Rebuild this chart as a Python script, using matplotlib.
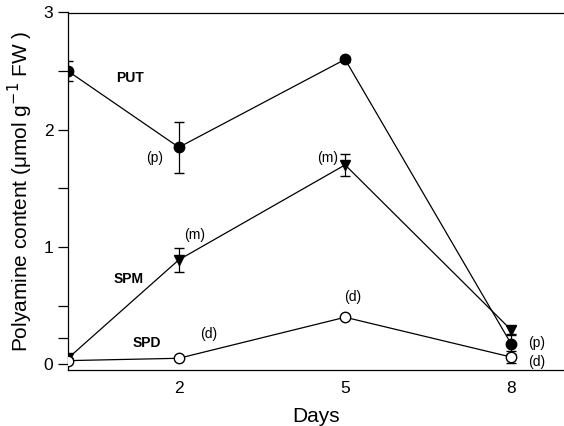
import numpy as np
import matplotlib
matplotlib.use('Agg')
import matplotlib.pyplot as plt

plt.rcParams['font.family'] = ['Liberation Sans', 'DejaVu Sans']

# Datos
dias = [0, 2, 5, 8]
put = [2.50, 1.85, 2.60, 0.17]
put_err = [0.085, 0.22, 0.02, 0.08]
spm = [0.05, 0.89, 1.70, 0.29]
spm_err = [0.0, 0.10, 0.095, 0.035]
spd = [0.03, 0.05, 0.40, 0.06]
spd_err = [0.0, 0.0, 0.0, 0.05]

fig = plt.figure(figsize=(5.64, 4.26), dpi=100)
ax = fig.add_axes([68 / 564, 1 - 370 / 426, 1 - 68 / 564, (370 - 12.5) / 426])

# Lineas y marcadores
ax.errorbar(dias, put, yerr=put_err, fmt='o', color='black', lw=0.9,
            ms=7.5, capsize=3.5, elinewidth=0.9, ls='-', zorder=3)
ax.errorbar(dias, spm, yerr=spm_err, fmt='v', color='black', lw=0.9,
            ms=7.5, capsize=3.5, elinewidth=0.9, ls='-', zorder=3)
ax.errorbar(dias, spd, yerr=spd_err, fmt='o', color='black', mfc='white',
            mec='black', lw=0.9, ms=7.5, capsize=3.5, elinewidth=0.9, ls='-', zorder=3)

ax.set_xlim(0, 8.95)
ax.set_ylim(-0.05, 3)
ax.set_xticks([2, 5, 8])
ax.set_yticks([0, 1, 2, 3])
ax.set_yticks([0.22, 0.5, 1.5, 2.5], minor=True)
ax.tick_params(axis='x', length=0, labelsize=12.5, pad=8)
ax.tick_params(axis='y', which='both', direction='out', length=7, width=0.9, labelsize=12.5)
ax.spines['right'].set_visible(False)
for s in ['left', 'top', 'bottom']:
    ax.spines[s].set_linewidth(0.9)

ax.set_xlabel('Days', fontsize=15, labelpad=8)
ax.set_ylabel('Polyamine content (\u03bcmol g$^{-1}$ FW )', fontsize=15, labelpad=6)

# Etiquetas dentro del grafico
etiquetas = [
    (1.12, 2.44, 'PUT', 'bold'),
    (1.10, 0.73, 'SPM', 'bold'),
    (1.43, 0.18, 'SPD', 'bold'),
    (1.57, 1.76, '(p)', 'normal'),
    (2.29, 1.10, '(m)', 'normal'),
    (2.53, 0.26, '(d)', 'normal'),
    (4.69, 1.76, '(m)', 'normal'),
    (5.13, 0.57, '(d)', 'normal'),
    (8.45, 0.18, '(p)', 'normal'),
    (8.45, 0.02, '(d)', 'normal'),
]
for x, y, t, w in etiquetas:
    ax.text(x, y, t, fontsize=10, fontweight=w, ha='center', va='center')

fig.savefig('out.png', dpi=100)
